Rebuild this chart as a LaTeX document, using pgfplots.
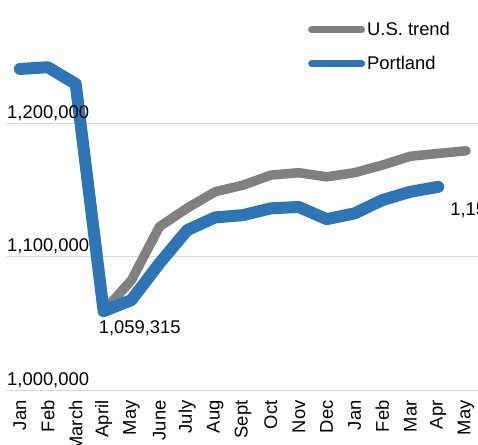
\documentclass[border=0pt]{standalone}
\usepackage{fontspec}
\setmainfont{Liberation Sans}
\usepackage{pgfplots}
\usepackage{pgfplotstable}
\pgfplotsset{compat=1.18}
\usetikzlibrary{calc}

\definecolor{usgray}{HTML}{808080}
\definecolor{pdxblue}{HTML}{2E75B6}
\definecolor{gridgray}{HTML}{D9D9D9}

\tikzset{ylab/.style={anchor=base west, inner sep=0pt, xshift=1bp, yshift=5bp}}

% month index 0..16, Jan (yr 1) .. May (yr 2)
\pgfplotstableread{
idx value
3  1059315
4  1082500
5  1122500
6  1136500
7  1148700
8  1153700
9  1161200
10 1163000
11 1159900
12 1163000
13 1168700
14 1175300
15 1177400
16 1179400
}\ustrend

\pgfplotstableread{
idx value
0  1240700
1  1242000
2  1229500
3  1059315
4  1067600
5  1095000
6  1120000
7  1129500
8  1131200
9  1136300
10 1137300
11 1128200
12 1132500
13 1142500
14 1148700
15 1152400
}\portland

\begin{document}
\fontsize{18.4bp}{22bp}\selectfont
\begin{tikzpicture}
\begin{axis}[
  scale only axis,
  width=474bp, height=390.3bp,
  xmin=-0.5, xmax=16.5,
  ymin=1000000, ymax=1292360,
  clip=false,
  axis line style={draw=none},
  major tick length=0pt,
  ymajorgrids,
  grid style={gridgray, line width=1.2bp},
  ytick={1000000,1100000,1200000},
  yticklabels={},
  xtick={0,...,16},
  xticklabels={Jan,Feb,March,April,May,June,July,Aug,Sept,Oct,Nov,Dec,Jan,Feb,Mar,Apr,May},
  xticklabel shift=10bp,
  xticklabel style={rotate=90, anchor=east, inner sep=0pt},
  legend style={draw=none, fill=none, at={(rel axis cs:0.637,0.95)}, anchor=north west,
    inner sep=0pt, row sep=14bp, legend cell align=left},
  legend image code/.code={\draw[#1, line width=7bp, line cap=round] (0bp,0bp) -- (50bp,0bp);},
  every axis plot/.append style={line cap=round, line join=round},
]
\coordinate (bl) at (rel axis cs:0,0);
\addplot[usgray, line width=9.5bp] table[x=idx, y=value] {\ustrend};
\addlegendentry{U.S. trend}
\addplot[pdxblue, line width=12bp] table[x=idx, y=value] {\portland};
\addlegendentry{Portland}
% value labels of the y axis, set over the lines as in the original
\node[ylab] at (axis cs:-0.5,1000000) {1,000,000};
\node[ylab] at (axis cs:-0.5,1100000) {1,100,000};
\node[ylab] at (axis cs:-0.5,1200000) {1,200,000};
\node[anchor=base west, inner sep=0pt, xshift=-5bp, yshift=-22.7bp] at (axis cs:3,1059315) {1,059,315};
\node[anchor=base west, inner sep=0pt, xshift=12bp, yshift=-29bp] at (axis cs:15,1152400) {1,152,400};
\end{axis}
\pgfresetboundingbox
\path[use as bounding box] ($(bl)+(-6bp,-54.7bp)$) rectangle ($(bl)+(472bp,390.3bp)$);
\end{tikzpicture}
\end{document}
